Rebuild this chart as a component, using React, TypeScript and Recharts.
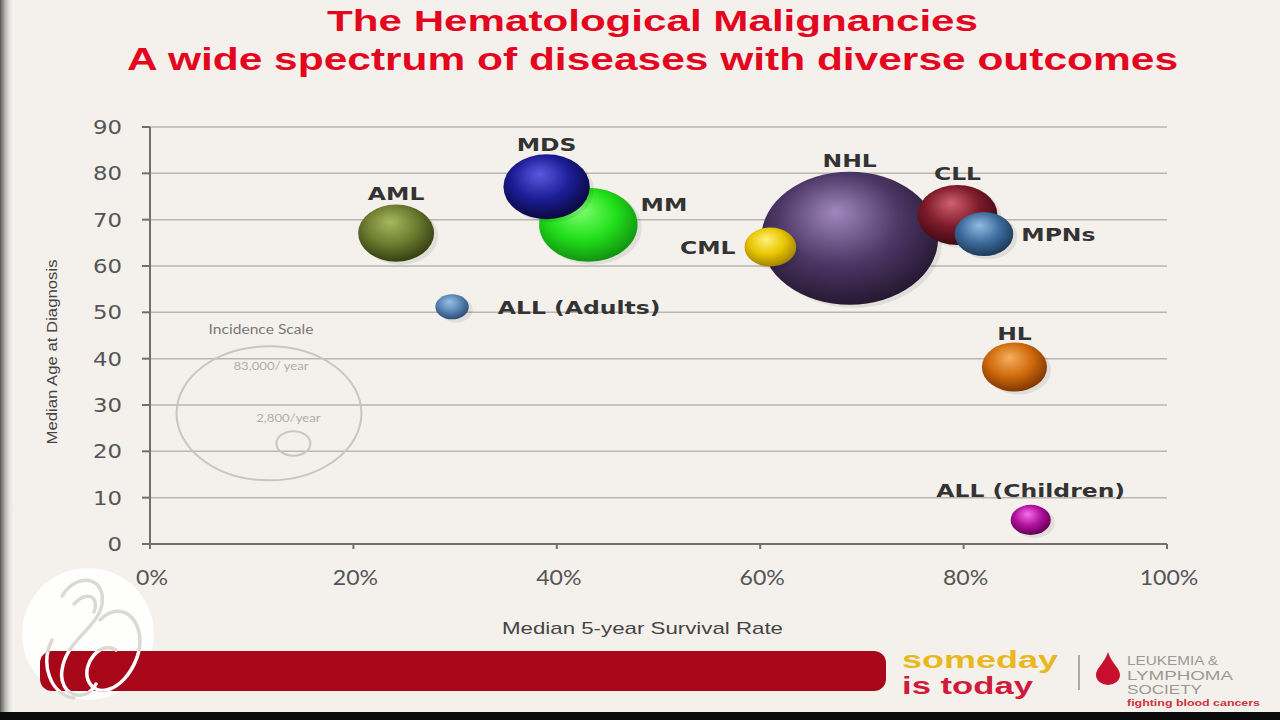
import React from "react";
import { ScatterChart, Scatter, XAxis, YAxis, ZAxis, CartesianGrid } from "recharts";

// bubbles, in drawing order (later ones sit on top)
const diseases = ["AML", "MM", "MDS", "ALL (Adults)", "NHL", "CML", "CLL", "MPNs", "HL", "ALL (Children)"];
const survivalPct = [24.2, 43.1, 39.0, 29.7, 68.8, 61.0, 79.4, 82.0, 85.0, 86.6];
const medianAge = [67.1, 68.9, 77.1, 51.2, 66.0, 64.1, 71.0, 66.9, 38.2, 5.2];
const incidence = [12900, 21700, 16700, 2500, 70000, 6000, 14300, 7700, 9500, 3600];

// incidence scale key
const scaleLabels = ["83,000/ year", "2,800/year"];
const scaleIncidence = [83000, 2800];
const scaleX = [11.7, 14.1];
const scaleY = [28.2, 21.7];

const xTicks = [0, 20, 40, 60, 80, 100];
const yTicks = [0, 10, 20, 30, 40, 50, 60, 70, 80, 90];

const STRETCH = 1.33; // the slide is stretched horizontally

const COLORS: Record<string, [string, string, string]> = {
  AML: ["#a8b860", "#6d7c2f", "#323c10"],
  MM: ["#7dff70", "#22e01a", "#109010"],
  MDS: ["#5a5ae0", "#1c1c96", "#08083a"],
  "ALL (Adults)": ["#9cc0e6", "#5884b4", "#2a4a70"],
  NHL: ["#a088bc", "#4c3766", "#24162f"],
  CML: ["#fff27a", "#e8c600", "#a07e00"],
  CLL: ["#d06070", "#7c1a2a", "#3c0810"],
  MPNs: ["#94bce2", "#3d6d9e", "#1c3654"],
  HL: ["#f4b060", "#d06a0c", "#7a3400"],
  "ALL (Children)": ["#f870ea", "#b0109c", "#5c0050"],
};

// label placement around each bubble
const LABELS: Record<string, { place: "top" | "left" | "right"; gap: number; dy?: number }> = {
  AML: { place: "top", gap: 5 },
  MM: { place: "right", gap: 3, dy: -21 },
  MDS: { place: "top", gap: 3 },
  "ALL (Adults)": { place: "right", gap: 29 },
  NHL: { place: "top", gap: 5 },
  CML: { place: "left", gap: 9 },
  CLL: { place: "top", gap: 5 },
  MPNs: { place: "right", gap: 8 },
  HL: { place: "top", gap: 3 },
  "ALL (Children)": { place: "top", gap: 8 },
};

const bubbles = diseases.map((name, i) => ({
  name,
  x: survivalPct[i],
  y: medianAge[i],
  z: incidence[i],
}));

const scaleKey = scaleLabels.map((label, i) => ({
  label,
  x: scaleX[i],
  y: scaleY[i],
  z: scaleIncidence[i],
}));

const Bubble = (props: any) => {
  const { cx, cy, width, payload, index } = props;
  const ry = width / 2;
  const rx = ry * STRETCH;
  const [hi, mid, dark] = COLORS[payload.name];
  const id = `ball-${index}`;
  const lab = LABELS[payload.name];
  let tx = cx;
  let ty = cy - ry - lab.gap;
  let anchor = "middle";
  if (lab.place === "right") {
    tx = cx + rx + lab.gap;
    ty = cy + 7;
    anchor = "start";
  } else if (lab.place === "left") {
    tx = cx - rx - lab.gap;
    ty = cy + 7;
    anchor = "end";
  }
  ty += lab.dy || 0;
  return (
    <g>
      <defs>
        <radialGradient id={id} cx="0.45" cy="0.4" r="0.62" fx="0.42" fy="0.3">
          <stop offset="0" stopColor={hi} />
          <stop offset="0.55" stopColor={mid} />
          <stop offset="1" stopColor={dark} />
        </radialGradient>
      </defs>
      <ellipse cx={cx + 4} cy={cy + 3} rx={rx} ry={ry} fill="#000" opacity={0.08} />
      <ellipse cx={cx} cy={cy} rx={rx} ry={ry} fill={`url(#${id})`} />
      <text
        transform={`translate(${tx},${ty}) scale(1.27,1)`}
        textAnchor={anchor}
        fontFamily="DejaVu Sans"
        fontWeight="bold"
        fontSize={18.5}
        fill="#333"
      >
        {payload.name}
      </text>
    </g>
  );
};

const ScaleRing = (props: any) => {
  const { cx, cy, width, index, payload } = props;
  const ry = width / 2;
  const rx = ry * 1.38;
  return (
    <g>
      <ellipse cx={cx} cy={cy} rx={rx} ry={ry} fill="none" stroke="#c9c6c2" strokeWidth={2} />
      {index === 0 && (
        <>
          <text transform={`translate(${cx - 8},${cy - ry - 12}) scale(1.2,1)`} textAnchor="middle"
            fontFamily="Lato" fontSize={13} fill="#7a7876">Incidence Scale</text>
          <text transform={`translate(${cx + 2},${cy - ry + 24}) scale(1.2,1)`} textAnchor="middle"
            fontFamily="Lato" fontSize={11} fill="#b0aeab">{payload.label}</text>
        </>
      )}
      {index === 1 && (
        <text transform={`translate(${cx - 5},${cy - ry - 9}) scale(1.2,1)`} textAnchor="middle"
          fontFamily="Lato" fontSize={11} fill="#b0aeab">{payload.label}</text>
      )}
    </g>
  );
};

const YTick = ({ x, y, payload }: any) => (
  <text transform={`translate(${x},${y + 7}) scale(1.2,1)`} textAnchor="end"
    fontFamily="DejaVu Sans" fontSize={19} fill="#555">
    {payload.value}
  </text>
);

const XTick = ({ x, y, payload }: any) => (
  <text transform={`translate(${x + 2},${y + 16}) scale(1.1,1)`} textAnchor="middle"
    fontFamily="Lato" fontSize={21} fill="#555">
    {payload.value}%
  </text>
);

const swirl = (
  <>
    <path d="M62 596 C76 572 106 576 102 604 C98 628 66 640 62 670 C58 696 86 704 96 684" />
    <path d="M74 604 C86 590 100 596 94 612" />
    <path d="M100 620 C124 596 150 626 136 660 C124 690 96 700 88 680 C82 664 100 640 116 650" />
    <path d="M52 640 C40 664 50 694 74 698" />
  </>
);

function Backdrop() {
  return (
    <svg width={1280} height={720} style={{ position: "absolute", left: 0, top: 0 }}>
      <defs>
        <linearGradient id="edge" x1="0" x2="1" y1="0" y2="0">
          <stop offset="0" stopColor="#555" />
          <stop offset="1" stopColor="#f4f1ec" stopOpacity={0} />
        </linearGradient>
        <clipPath id="band">
          <rect x={40} y={651} width={846} height={40} rx={12} />
        </clipPath>
      </defs>
      <rect x={0} y={0} width={1280} height={720} fill="#f4f1ec" />
      <rect x={0} y={0} width={14} height={720} fill="url(#edge)" />
      <rect x={0} y={712} width={1280} height={8} fill="#0b0b0b" />

      {/* title */}
      <text x={327} y={31} textLength={651} lengthAdjust="spacingAndGlyphs" fontFamily="Liberation Sans"
        fontWeight="bold" fontSize={30} fill="#e3061e">The Hematological Malignancies</text>
      <text x={127} y={70} textLength={1051} lengthAdjust="spacingAndGlyphs" fontFamily="Liberation Sans"
        fontWeight="bold" fontSize={32} fill="#e3061e">A wide spectrum of diseases with diverse outcomes</text>

      {/* axis titles */}
      <text transform="translate(57,352) rotate(-90)" textAnchor="middle" textLength={185}
        lengthAdjust="spacingAndGlyphs" fontFamily="Liberation Sans" fontSize={15} fill="#444">
        Median Age at Diagnosis
      </text>
      <text x={502} y={634} textLength={281} lengthAdjust="spacingAndGlyphs" fontFamily="Liberation Sans"
        fontSize={17} fill="#444">Median 5-year Survival Rate</text>

      {/* footer band and logo */}
      <circle cx={88} cy={634} r={66} fill="#fff" opacity={0.88} />
      <g fill="none" stroke="#dcd8d4" strokeWidth={3.5} strokeLinecap="round">{swirl}</g>
      <rect x={40} y={651} width={846} height={40} rx={12} fill="#a8071a" />
      <g fill="none" stroke="#fff" strokeWidth={3.5} strokeLinecap="round" clipPath="url(#band)">{swirl}</g>
      <text x={902} y={668} textLength={156} lengthAdjust="spacingAndGlyphs" fontFamily="Liberation Sans"
        fontWeight="bold" fontSize={24} fill="#e8b81e">someday</text>
      <text x={902} y={694} textLength={131} lengthAdjust="spacingAndGlyphs" fontFamily="Liberation Sans"
        fontWeight="bold" fontSize={24} fill="#cf1a3a">is today</text>
      <line x1={1079} y1={655} x2={1079} y2={690} stroke="#aaa" strokeWidth={2} />
      <path d="M1108 652 C1104 664 1096 668 1096 675 A12 10 0 0 0 1120 675 C1120 668 1112 664 1108 652 Z"
        fill="#c8102e" />
      <g fontFamily="Liberation Sans" fontSize={12.5} fill="#9a9896">
        <text x={1127} y={665} textLength={91} lengthAdjust="spacingAndGlyphs">LEUKEMIA &amp;</text>
        <text x={1127} y={680} textLength={106} lengthAdjust="spacingAndGlyphs">LYMPHOMA</text>
        <text x={1127} y={694} textLength={75} lengthAdjust="spacingAndGlyphs">SOCIETY</text>
      </g>
      <text x={1127} y={706} textLength={133} lengthAdjust="spacingAndGlyphs" fontFamily="Liberation Sans"
        fontWeight="bold" fontSize={8.5} fill="#d03040">fighting blood cancers</text>
    </svg>
  );
}

export default function App() {
  return (
    <div style={{ position: "fixed", left: 0, top: 0, width: 1280, height: 720, overflow: "hidden" }}>
      <Backdrop />
      <div style={{ position: "absolute", left: 0, top: 0 }}>
        <ScatterChart width={1280} height={720} margin={{ top: 127, right: 113, bottom: 136, left: 90 }}>
          <CartesianGrid vertical={false} stroke="#b9b5af" strokeWidth={1.5} />
          <XAxis
            type="number"
            dataKey="x"
            domain={[0, 100]}
            ticks={xTicks}
            height={40}
            tick={<XTick />}
            tickSize={5}
            tickMargin={20}
            stroke="#707070"
            strokeWidth={2}
          />
          <YAxis
            type="number"
            dataKey="y"
            domain={[0, 90]}
            ticks={yTicks}
            width={60}
            tick={<YTick />}
            tickSize={8}
            tickMargin={20}
            stroke="#707070"
            strokeWidth={2}
          />
          <ZAxis zAxisId="cases" type="number" dataKey="z" domain={[0, 70000]} range={[0, Math.PI * 66.5 * 66.5]} />
          <ZAxis zAxisId="key" type="number" dataKey="z" domain={[0, 83000]} range={[0, Math.PI * 67 * 67]} />
          <Scatter data={scaleKey} zAxisId="key" shape={<ScaleRing />} isAnimationActive={false} />
          <Scatter data={bubbles} zAxisId="cases" shape={<Bubble />} isAnimationActive={false} />
        </ScatterChart>
      </div>
    </div>
  );
}
